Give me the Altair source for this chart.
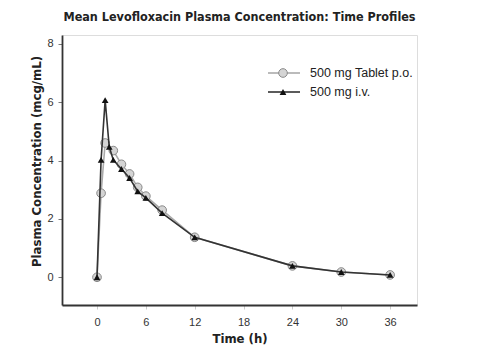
import altair as alt
import pandas as pd

# Data
tablet_time = [0, 0.5, 1, 2, 3, 4, 5, 6, 8, 12, 24, 30, 36]
tablet_conc = [0, 2.88, 4.6, 4.34, 3.87, 3.54, 3.08, 2.78, 2.3, 1.37, 0.39, 0.18, 0.08]
iv_time = [0, 0.5, 1, 1.5, 2, 3, 4, 5, 6, 8, 12, 24, 30, 36]
iv_conc = [0, 4.02, 6.07, 4.47, 4.02, 3.71, 3.40, 2.94, 2.72, 2.20, 1.37, 0.39, 0.18, 0.08]
x_ticks = [0, 6, 12, 18, 24, 30, 36]
y_ticks = [0, 2, 4, 6, 8]
labels = ["500 mg Tablet p.o.", "500 mg i.v."]

tab = pd.DataFrame({"t": tablet_time, "c": tablet_conc})
iv = pd.DataFrame({"t": iv_time, "c": iv_conc})
dummy = pd.DataFrame({"a": [0]})

W, H = 355, 270
BOLD = "DejaVu Sans Condensed"
REG = "Liberation Sans"

xs = alt.Scale(domain=[-4.3, 39.3], nice=False, zero=False)
ys = alt.Scale(domain=[-0.95, 8.3], nice=False, zero=False)

X = alt.X("t:Q", scale=xs, axis=alt.Axis(
    values=x_ticks, title="Time (h)", grid=False, ticks=True, tickSize=4,
    tickColor="#cccccc", tickWidth=1,
    domainColor="#333", domainWidth=1.8, labelFont=REG, labelFontSize=11,
    labelColor="#333", labelPadding=7, titleFont=BOLD, titleFontSize=13,
    titleFontWeight="bold", titleColor="#222", titlePadding=5))
Y = alt.Y("c:Q", scale=ys, axis=alt.Axis(
    values=y_ticks, title="Plasma Concentration (mcg/mL)", grid=False,
    domain=True, domainColor="#333", domainWidth=1.8, tickSize=4,
    tickColor="#777", tickWidth=1,
    labelFont=REG, labelFontSize=11, labelColor="#333", labelPadding=5,
    titleFont=BOLD, titleFontSize=13, titleFontWeight="bold",
    titleColor="#222", titlePadding=3, titleY=126))

tab_line = alt.Chart(tab).mark_line(color="#aaaaaa", strokeWidth=1.6).encode(x=X, y=Y)
tab_pts = alt.Chart(tab).mark_point(shape="circle", size=75, filled=True,
                                    fill="#d4d4d4", stroke="#8a8a8a",
                                    strokeWidth=1, opacity=1).encode(x=X, y=Y)
iv_line = alt.Chart(iv).mark_line(color="#333333", strokeWidth=1.6).encode(x=X, y=Y)
iv_pts = alt.Chart(iv).mark_point(shape="triangle-up", size=45, filled=True,
                                  color="#111111", opacity=1).encode(x=X, y=Y)

# legend
lx0, lx1, lxs, ltx = 206, 238, 221, 248
rows = [38, 57]
leg = []
leg.append(alt.Chart(dummy).mark_rule(color="#aaaaaa", strokeWidth=1.6).encode(
    x=alt.value(lx0), x2=alt.value(lx1), y=alt.value(rows[0])))
leg.append(alt.Chart(dummy).mark_point(shape="circle", size=75, filled=True,
                                       fill="#d4d4d4", stroke="#8a8a8a",
                                       strokeWidth=1, opacity=1).encode(
    x=alt.value(lxs), y=alt.value(rows[0])))
leg.append(alt.Chart(dummy).mark_rule(color="#333333", strokeWidth=1.6).encode(
    x=alt.value(lx0), x2=alt.value(lx1), y=alt.value(rows[1])))
leg.append(alt.Chart(dummy).mark_point(shape="triangle-up", size=45, filled=True,
                                       color="#111111", opacity=1).encode(
    x=alt.value(lxs), y=alt.value(rows[1])))
for lab, ry in zip(labels, rows):
    leg.append(alt.Chart(dummy).mark_text(text=lab, align="left", baseline="middle",
                                          font=REG, fontSize=12.5, color="#222").encode(
        x=alt.value(ltx), y=alt.value(ry)))

chart = alt.layer(tab_line, tab_pts, iv_line, iv_pts, *leg).properties(
    width=W, height=H,
    title=alt.TitleParams("Mean Levofloxacin Plasma Concentration: Time Profiles",
                          font=BOLD, fontSize=12.5, fontWeight="bold", color="#222",
                          anchor="middle", frame="group", offset=12),
    autosize=alt.AutoSizeParams(type="none"),
    padding={"left": 54, "top": 27, "right": 53, "bottom": 45},
).configure_view(stroke=None).configure(background="white")

chart.save("out.html", embed_options={"renderer": "svg", "actions": False})
